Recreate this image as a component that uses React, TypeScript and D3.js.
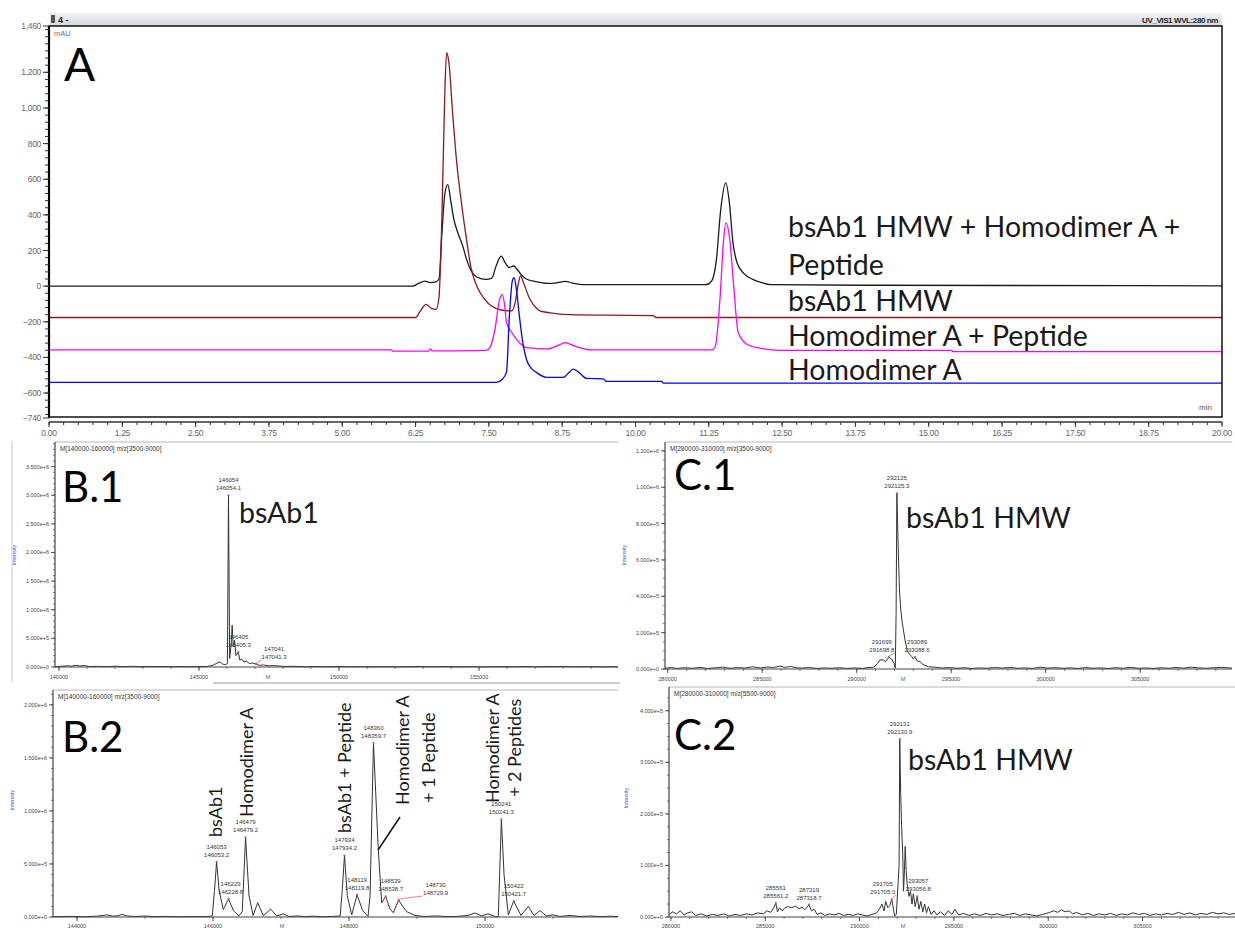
import React from 'react';
import * as d3 from 'd3';

type Pt = [number, number];

// ---------------- Panel A : chromatogram data (time min, mAU as plotted) ----------------
const chromTimeTicks = ["0.00","1.25","2.50","3.75","5.00","6.25","7.50","8.75","10.00","11.25","12.50","13.75","15.00","16.25","17.50","18.75","20.00"];
const chromYTicks = [1460, 1200, 1000, 800, 600, 400, 200, 0, -200, -400, -600, -740];

const traceMix: Pt[] = [
  [0, 0], [6.2, 0], [6.3, 15], [6.41, 28], [6.5, 20], [6.58, 22], [6.65, 40], [6.7, 300], [6.75, 520], [6.8, 570],
  [6.85, 480], [6.9, 380], [6.97, 300], [7.05, 230], [7.12, 150], [7.2, 85], [7.3, 50], [7.45, 38], [7.55, 45],
  [7.62, 110], [7.71, 168], [7.78, 130], [7.85, 105], [7.92, 113], [7.98, 95], [8.05, 65], [8.14, 40], [8.3, 25],
  [8.5, 15], [8.65, 18], [8.8, 27], [8.95, 15], [9.1, 8], [11.2, 8], [11.3, 30], [11.38, 150], [11.45, 420],
  [11.54, 580], [11.6, 470], [11.66, 250], [11.73, 133], [11.85, 70], [12.0, 38], [12.15, 20], [12.3, 8], [14, 5], [20, 2]
];
const traceHMW: Pt[] = [
  [0, -176], [6.25, -176], [6.33, -140], [6.43, -102], [6.52, -125], [6.6, -130], [6.65, -60], [6.7, 400],
  [6.75, 1100], [6.78, 1310], [6.82, 1250], [6.88, 980], [6.95, 700], [7.04, 448], [7.12, 260], [7.19, 113],
  [7.27, 20], [7.35, -36], [7.5, -100], [7.63, -126], [7.8, -138], [7.89, -139], [7.95, -90], [8.0, 10],
  [8.04, 57], [8.1, 10], [8.2, -74], [8.3, -120], [8.37, -139], [8.55, -150], [8.77, -158], [9.5, -163],
  [10.3, -165], [10.35, -176], [20, -176]
];
const traceHomoPep: Pt[] = [
  [0, -358], [5.84, -358], [5.86, -365], [6.47, -365], [6.5, -352], [6.53, -363], [7.45, -360], [7.52, -343],
  [7.6, -250], [7.68, -80], [7.73, -46], [7.77, -110], [7.8, -204], [7.89, -260], [8.0, -310], [8.14, -345],
  [8.5, -352], [8.7, -330], [8.8, -317], [8.95, -335], [9.25, -358], [11.3, -358], [11.36, -340], [11.44, -74],
  [11.5, 250], [11.54, 355], [11.6, 280], [11.67, 20], [11.75, -260], [11.9, -326], [12.12, -348], [12.46, -360],
  [15.39, -360], [15.41, -367], [20, -367]
];
const traceHomo: Pt[] = [
  [0, -540], [7.63, -540], [7.72, -525], [7.8, -484], [7.85, -167], [7.9, 30], [7.93, 48], [7.97, -20],
  [8.02, -167], [8.08, -320], [8.14, -410], [8.22, -460], [8.31, -484], [8.48, -512], [8.77, -512], [8.85, -490],
  [8.94, -466], [9.02, -480], [9.17, -518], [9.45, -520], [9.5, -535], [10.45, -535], [10.47, -544], [20, -544]
];
const chromLabels = ["bsAb1 HMW + Homodimer A +", "Peptide", "bsAb1 HMW", "Homodimer A + Peptide", "Homodimer A"];

// ---------------- MS spectra (mass Da, intensity) ----------------
const specB1: Pt[] = [
  [139860, 4e3], [140100, 1.2e4], [140300, 2.2e4], [140450, 1.5e4], [140600, 3e4], [140750, 1.8e4], [140900, 2.5e4],
  [141100, 8e3], [141400, 1.2e4], [141700, 6e3], [142000, 1.4e4], [142300, 7e3], [142600, 1.2e4], [142900, 5e3],
  [143200, 1e4], [143500, 6e3], [143800, 9e3], [144100, 5e3], [144400, 8e3], [144700, 5e3], [145000, 7e3],
  [145300, 1e4], [145500, 3e4], [145650, 7e4], [145750, 9e4], [145850, 5e4], [145950, 4e4], [146015, 6e4],
  [146054, 3.0e6], [146095, 1.5e5], [146150, 4e5], [146185, 7.3e5], [146225, 3.5e5], [146270, 4.7e5],
  [146320, 2e5], [146405, 2.6e5], [146460, 1.2e5], [146520, 1.4e5], [146600, 9e4], [146700, 1e5], [146800, 6e4],
  [146900, 7e4], [147041, 5e4], [147150, 3e4], [147300, 3.5e4], [147500, 2e4], [147700, 2.5e4], [148000, 1e4],
  [148400, 1.2e4], [148800, 5e3], [149200, 9e3], [149600, 4e3], [150000, 1e4], [150400, 4e3], [150800, 6e3],
  [151200, 3e3], [151600, 6e3], [152000, 3e3], [152500, 5e3], [153000, 1e4], [153300, 4e3], [153700, 8e3],
  [154200, 3e3], [154700, 5e3], [155200, 3e3], [155700, 6e3], [156200, 4e3], [156600, 9e3], [157000, 4e3],
  [157500, 7e3], [158000, 1e4], [158400, 4e3], [158900, 6e3], [159400, 3e3], [159960, 5e3]
];
const specB2: Pt[] = [
  [143650, 3e3], [143900, 6e3], [144100, 2e3], [144300, 8e3], [144440, 2e4], [144520, 8e3], [144600, 1.2e4],
  [144660, 2.5e4], [144740, 1e4], [144850, 5e3], [145000, 9e3], [145150, 3e3], [145300, 6e3], [145500, 2e3],
  [145700, 5e3], [145900, 3e3], [145990, 1e4], [146022, 2.5e5], [146053, 5.2e5], [146090, 2.5e5], [146151, 7e4],
  [146229, 1.7e5], [146300, 6e4], [146380, 1e4], [146430, 5e4], [146479, 7.5e5], [146530, 2e5], [146590, 1.5e4],
  [146657, 1.35e5], [146740, 1.2e4], [146848, 7.5e4], [146937, 1e4], [147034, 3e4], [147120, 5e3], [147250, 1e4],
  [147350, 3e3], [147470, 8e3], [147600, 2e3], [147750, 5e3], [147870, 1e4], [147900, 2.5e5], [147934, 5.8e5],
  [147975, 2e5], [148040, 2e4], [148119, 2.1e5], [148200, 6e4], [148280, 5e3], [148310, 2e5], [148360, 1.64e6],
  [148431, 6.3e5], [148481, 1.35e5], [148539, 1.94e5], [148600, 8e4], [148651, 4e4], [148730, 1.6e5],
  [148790, 1e5], [148848, 5e4], [148971, 1.5e4], [149100, 5e3], [149300, 1e4], [149450, 3e3], [149600, 6e3],
  [149750, 1.5e4], [149853, 3.8e4], [149950, 1e4], [150044, 3e4], [150150, 5e3], [150196, 3e3], [150215, 4e5],
  [150241, 9.2e5], [150280, 4e5], [150343, 2e4], [150422, 1.5e5], [150529, 1.5e4], [150637, 1e5], [150720, 1.5e4],
  [150809, 6e4], [150900, 1e4], [151000, 2e4], [151100, 5e3], [151250, 1.5e4], [151400, 4e3], [151550, 1e4],
  [151700, 3e3], [151850, 8e3], [151956, 3e3]
];
const specC1: Pt[] = [
  [279860, 4e3], [280200, 8e3], [280500, 3e3], [280900, 7e3], [281300, 4e3], [281700, 9e3], [282100, 3e3],
  [282500, 6e3], [282900, 1e4], [283300, 4e3], [283700, 8e3], [284100, 5e3], [284500, 1.2e4], [284900, 6e3],
  [285300, 1.1e4], [285600, 8e3], [285950, 1.6e4], [286200, 9e3], [286500, 1.4e4], [286800, 7e3], [287100, 5e3],
  [287500, 8e3], [287900, 3e3], [288300, 6e3], [288700, 4e3], [289100, 7e3], [289500, 3e3], [289900, 6e3],
  [290300, 3e3], [290600, 8e3], [290900, 1e4], [291100, 3e4], [291233, 5e4], [291407, 5e4], [291534, 4e4],
  [291699, 6.6e4], [291850, 5.5e4], [291980, 3e4], [292042, 5e3], [292085, 3e5], [292125, 9.67e5], [292200, 6.5e5],
  [292265, 4.3e5], [292330, 3.3e5], [292400, 2.6e5], [292466, 2.2e5], [292555, 1.6e5], [292677, 1e5], [292800, 8e4],
  [292910, 7e4], [293000, 5.5e4], [293089, 6.6e4], [293200, 4.5e4], [293349, 4e4], [293500, 2.5e4], [293614, 2e4],
  [293800, 1.2e4], [294143, 1e4], [294500, 5e3], [294900, 8e3], [295300, 4e3], [295700, 7e3], [296100, 3e3],
  [296500, 6e3], [296900, 4e3], [297300, 8e3], [297700, 5e3], [298100, 9e3], [298500, 4e3], [298900, 6e3],
  [299300, 3e3], [299700, 1e4], [300100, 5e3], [300500, 7e3], [300900, 4e3], [301300, 6e3], [301700, 3e3],
  [302100, 8e3], [302500, 4e3], [302900, 6e3], [303300, 3e3], [303700, 7e3], [304100, 4e3], [304500, 9e3],
  [304900, 4e3], [305300, 6e3], [305700, 3e3], [306100, 7e3], [306500, 4e3], [306900, 8e3], [307300, 5e3],
  [307700, 1e4], [308100, 6e3], [308500, 4e3], [308900, 7e3], [309300, 9e3], [309850, 5e3]
];
const specC2: Pt[] = [
  [279900, 5e3], [280100, 1e4], [280300, 6e3], [280500, 1.2e4], [280700, 4e3], [280900, 8e3], [281100, 1e4],
  [281300, 3e3], [281600, 6e3], [281900, 2e3], [282200, 5e3], [282500, 3e3], [282800, 6e3], [283100, 2e3],
  [283400, 5e3], [283700, 3e3], [284000, 6e3], [284300, 4e3], [284600, 8e3], [284900, 6e3], [285100, 1.2e4],
  [285300, 9e3], [285450, 1.8e4], [285561, 2.7e4], [285650, 1e4], [285750, 1.8e4], [285900, 1.2e4], [286050, 1.8e4],
  [286200, 2e4], [286400, 1.8e4], [286600, 2.1e4], [286800, 1.6e4], [286950, 1.9e4], [287100, 1.4e4], [287200, 1.8e4],
  [287319, 2.4e4], [287450, 1.2e4], [287600, 1.5e4], [287750, 5e3], [287950, 8e3], [288150, 3e3], [288400, 6e3],
  [288650, 4e3], [288900, 7e3], [289150, 3e3], [289400, 5e3], [289650, 3e3], [289900, 6e3], [290150, 4e3],
  [290400, 2e3], [290650, 5e3], [290900, 8e3], [291050, 1.5e4], [291189, 2.5e4], [291300, 1.2e4], [291384, 3e4],
  [291500, 1.8e4], [291600, 2.2e4], [291705, 3.4e4], [291800, 1.5e4], [291860, 2e3], [291950, 5e3], [292095, 1e5],
  [292131, 3.45e5], [292180, 2.4e5], [292230, 1.75e5], [292290, 1.2e5], [292330, 5e4], [292380, 9e4],
  [292420, 1.37e5], [292470, 9e4], [292520, 6.5e4], [292580, 5e4], [292620, 4e4], [292700, 5e4], [292780, 2.5e4],
  [292850, 4.5e4], [292950, 2e4], [293057, 4e4], [293150, 1.5e4], [293250, 3e4], [293350, 1e4], [293450, 2.5e4],
  [293550, 8e3], [293650, 2e4], [293800, 5e3], [293950, 1.2e4], [294100, 4e3], [294300, 1e4], [294500, 3e3],
  [294700, 1.2e4], [294900, 5e3], [295050, 1.5e4], [295250, 4e3], [295500, 7e3], [295800, 3e3], [296100, 6e3],
  [296400, 3e3], [296700, 7e3], [297000, 4e3], [297300, 6e3], [297600, 3e3], [297900, 5e3], [298200, 7e3],
  [298500, 3e3], [298800, 6e3], [299100, 4e3], [299400, 2e3], [299700, 5e3], [300000, 8e3], [300300, 1.2e4],
  [300500, 9e3], [300700, 1.4e4], [300900, 1e4], [301100, 1.2e4], [301300, 6e3], [301500, 9e3], [301800, 4e3],
  [302100, 7e3], [302400, 3e3], [302700, 6e3], [303000, 4e3], [303300, 7e3], [303600, 3e3], [303900, 6e3],
  [304200, 4e3], [304500, 8e3], [304800, 5e3], [305100, 7e3], [305400, 3e3], [305700, 6e3], [306000, 4e3],
  [306300, 7e3], [306600, 5e3], [306900, 9e3], [307200, 5e3], [307500, 8e3], [307800, 4e3], [308100, 7e3],
  [308400, 5e3], [308700, 9e3], [309000, 6e3], [309300, 8e3], [309600, 5e3], [309900, 7e3]
];

// peak annotations: [mass, line1, line2]
const peaksB1: [number, string, string][] = [[146054, "146054", "146054.1"], [146405, "146405", "146405.3"], [147041, "147041", "147041.3"]];
const peaksB2: [number, string, string][] = [
  [146053, "146053", "146053.2"], [146229, "146229", "146228.8"], [146479, "146479", "146479.2"],
  [147934, "147934", "147934.2"], [148119, "148119", "148119.8"], [148360, "148360", "148359.7"],
  [148539, "148539", "148538.7"], [148730, "148730", "148729.9"], [150241, "150241", "150241.3"], [150422, "150422", "150421.7"]
];
const peaksC1: [number, string, string][] = [[292125, "292125", "292125.3"], [291699, "291699", "291698.8"], [293089, "293089", "293088.6"]];
const peaksC2: [number, string, string][] = [
  [292131, "292131", "292130.9"], [285561, "285561", "285561.2"], [287319, "287319", "287318.7"],
  [291705, "291705", "291705.0"], [293057, "293057", "293056.8"]
];

const yTicksB1 = [0, 5e5, 1e6, 1.5e6, 2e6, 2.5e6, 3e6, 3.5e6];
const yTicksB2 = [0, 5e5, 1e6, 1.5e6, 2e6];
const yTicksC1 = [0, 2e5, 4e5, 6e5, 8e5, 1e6, 1.2e6];
const yTicksC2 = [0, 1e5, 2e5, 3e5, 4e5];
const xTicksB1 = [140000, 145000, 150000, 155000];
const xTicksB2 = [144000, 146000, 148000, 150000];
const xTicksC = [280000, 285000, 290000, 295000, 300000, 305000];

const B2Species = ["bsAb1", "Homodimer A", "bsAb1 + Peptide", "Homodimer A", "+ 1 Peptide", "Homodimer A", "+ 2 Peptides"];

const SANS = "Liberation Sans, Arial, sans-serif";
const BIG = "Lato, 'Open Sans', sans-serif";

function ChromPanel() {
  const x = d3.scaleLinear().domain([0, 20]).range([49, 1222]);
  const y = d3.scaleLinear().domain([-740, 1460]).range([418, 26]);
  const line = d3.line<Pt>().x(d => x(d[0])).y(d => y(d[1])).curve(d3.curveMonotoneX);
  const minorX = d3.range(0, 20.001, 0.25);
  const minorY = d3.range(-720, 1460, 40);
  const fmt = d3.format(",");
  const series = [
    { d: traceMix, c: "#1a1a1a" },
    { d: traceHMW, c: "#8b1a1a" },
    { d: traceHomoPep, c: "#ff00ff" },
    { d: traceHomo, c: "#0000ff" },
  ];
  const labelY = [237, 275, 311, 346, 380];
  return (
    <g>
      <defs>
        <linearGradient id="tb" x1="0" y1="0" x2="0" y2="1">
          <stop offset="0" stopColor="#f0f0f6" />
          <stop offset="1" stopColor="#d6d6de" />
        </linearGradient>
        <clipPath id="clipA"><rect x={49} y={26} width={1173} height={391} /></clipPath>
      </defs>
      <rect x={50} y={13} width={1172} height={13} fill="url(#tb)" />
      <rect x={51} y={15} width={4} height={8} fill="#555" />
      <text x={58} y={23} fontSize={9} fontWeight="bold" fontFamily={SANS} fill="#222">4 -</text>
      <text x={1218} y={22.5} fontSize={8} fontWeight="bold" fontFamily={SANS} fill="#222" textAnchor="end" letterSpacing={-0.4}>UV_VIS1 WVL:280 nm</text>
      <text x={54} y={35.5} fontSize={7.5} fontFamily={SANS}><tspan fill="#c0504d">m</tspan><tspan fill="#4f6bd0">AU</tspan></text>
      <text x={1199} y={410} fontSize={8} fontFamily={SANS} fill="#555">min</text>
      <g clipPath="url(#clipA)">
        {series.map((s, i) => (
          <path key={i} d={line(s.d) || ""} fill="none" stroke={s.c} strokeWidth={1.3} />
        ))}
      </g>
      <rect x={49} y={26} width={1173} height={391} fill="none" stroke="#000" strokeWidth={1.4} />
      <line x1={49} y1={26} x2={49} y2={418} stroke="#000" strokeWidth={2.2} />
      {minorY.map(v => (
        <line key={"my" + v} x1={45} x2={49} y1={y(v)} y2={y(v)} stroke="#333" strokeWidth={1} />
      ))}
      {chromYTicks.map(v => (
        <g key={"y" + v}>
          <line x1={43} x2={49} y1={y(v)} y2={y(v)} stroke="#333" strokeWidth={1} />
          <text x={41} y={y(v) + 3} fontSize={8.5} fontFamily={SANS} fill="#666" textAnchor="end" letterSpacing={-0.3}>{fmt(v)}</text>
        </g>
      ))}
      <line x1={49} x2={1222} y1={422} y2={422} stroke="#333" strokeWidth={1.5} />
      {minorX.map(v => (
        <line key={"mx" + v} x1={x(v)} x2={x(v)} y1={422} y2={425} stroke="#333" strokeWidth={1} />
      ))}
      {chromTimeTicks.map(t => (
        <g key={"x" + t}>
          <line x1={x(+t)} x2={x(+t)} y1={422} y2={427} stroke="#333" strokeWidth={1} />
          <text x={x(+t)} y={436} fontSize={8.5} fontFamily={SANS} fill="#666" textAnchor="middle" letterSpacing={-0.3}>{t}</text>
        </g>
      ))}
      <text x={64} y={81} fontSize={46} fontFamily={BIG} fill="#000">A</text>
      {chromLabels.map((t, i) => (
        <text key={t + i} x={788} y={labelY[i]} fontSize={28.5} fontFamily={BIG} fill="#1a1a1a">{t}</text>
      ))}
    </g>
  );
}

interface MSCfg {
  id: string; left: number; top: number; right: number; bottom: number;
  xDomain: [number, number]; yMax: number; yTicks: number[]; yMinor: number;
  xTicks: number[]; xMinor: number; spec: Pt[]; peaks: [number, string, string][];
  header: string; name: string; nameX: number; nameY: number;
  peakDx: Record<number, number>; intY: number; intX: number; mX: number; mY: number; xLabelY: number;
}

function MSPanel({ c }: { c: MSCfg }) {
  const x = d3.scaleLinear().domain(c.xDomain).range([c.left, c.right]);
  const y = d3.scaleLinear().domain([0, c.yMax]).range([c.bottom, c.top]);
  const line = d3.line<Pt>().x(d => x(d[0])).y(d => y(d[1]));
  const fmt = d3.format(".3e");
  const minorY = d3.range(0, c.yMax, c.yMinor);
  const minorX = d3.range(Math.ceil(c.xDomain[0] / c.xMinor) * c.xMinor, c.xDomain[1], c.xMinor);
  const xfmt = d3.format("d");
  return (
    <g>
      <defs>
        <clipPath id={"clip" + c.id}><rect x={c.left} y={c.top} width={c.right - c.left} height={c.bottom - c.top + 1} /></clipPath>
      </defs>
      <line x1={c.left} x2={c.right} y1={c.top} y2={c.top} stroke="#b8b8b8" strokeWidth={1.2} />
      <text x={c.left + 5} y={c.top + 8.5} fontSize={6.5} fontFamily={SANS} fill="#333">{c.header}</text>
      <g clipPath={"url(#clip" + c.id + ")"}>
        <path d={line(c.spec) || ""} fill="none" stroke="#333" strokeWidth={1} />
      </g>
      <line x1={c.left} x2={c.left} y1={c.top} y2={c.bottom} stroke="#444" strokeWidth={1.2} />
      <line x1={c.left} x2={c.right} y1={c.bottom} y2={c.bottom} stroke="#444" strokeWidth={1.2} />
      {minorY.map(v => <line key={"my" + v} x1={c.left - 2} x2={c.left} y1={y(v)} y2={y(v)} stroke="#555" strokeWidth={0.8} />)}
      {c.yTicks.map(v => (
        <g key={"y" + v}>
          <line x1={c.left - 4} x2={c.left} y1={y(v)} y2={y(v)} stroke="#444" strokeWidth={0.9} />
          <text x={c.left - 6} y={y(v) + 2} fontSize={5.5} fontFamily={SANS} fill="#444" textAnchor="end">{fmt(v)}</text>
        </g>
      ))}
      {minorX.map(v => <line key={"mx" + v} x1={x(v)} x2={x(v)} y1={c.bottom} y2={c.bottom + 2} stroke="#555" strokeWidth={0.8} />)}
      {c.xTicks.map(v => (
        <g key={"x" + v}>
          <line x1={x(v)} x2={x(v)} y1={c.bottom} y2={c.bottom + 4} stroke="#444" strokeWidth={0.9} />
          <text x={x(v)} y={c.xLabelY} fontSize={5.5} fontFamily={SANS} fill="#444" textAnchor="middle">{xfmt(v)}</text>
        </g>
      ))}
      <text transform={`translate(${c.intX},${c.intY}) rotate(-90)`} fontSize={5.5} fontFamily={SANS} fill="#3a55c8" textAnchor="middle">Intensity</text>
      <text x={c.mX} y={c.mY} fontSize={5.5} fontFamily={SANS} fill="#3a55c8" textAnchor="middle">M</text>
      {c.peaks.map(([m, a, b]) => {
        const pt = c.spec.reduce((best, p) => (Math.abs(p[0] - m) < Math.abs(best[0] - m) ? p : best), c.spec[0]);
        const px = x(pt[0]);
        const py = y(pt[1]);
        const dx = c.peakDx[m] || 0;
        const lx = px + dx;
        return (
          <g key={"pk" + m}>
            {Math.abs(dx) > 6 && (
              <line x1={px} y1={py - 1} x2={lx - Math.sign(dx) * 13} y2={py - 4} stroke="#e05050" strokeWidth={0.7} />
            )}
            <circle cx={px} cy={py} r={1.1} fill="#e05050" />
            <text x={lx} y={py - 13} fontSize={6} fontFamily={SANS} fill="#333" textAnchor="middle">{a}</text>
            <text x={lx} y={py - 5} fontSize={6} fontFamily={SANS} fill="#333" textAnchor="middle">{b}</text>
          </g>
        );
      })}
      <text x={c.nameX} y={c.nameY} fontSize={42} fontFamily={BIG} fill="#000">{c.name}</text>
    </g>
  );
}

const cfgB1: MSCfg = {
  id: "b1", left: 55, top: 442, right: 618, bottom: 667, xDomain: [139860, 159960], yMax: 3.93e6,
  yTicks: yTicksB1, yMinor: 1e5, xTicks: xTicksB1, xMinor: 1000, spec: specB1, peaks: peaksB1,
  header: "M[140000-160000] m/z[3500-9000]", name: "B.1", nameX: 62, nameY: 502,
  peakDx: { 147041: 18 }, intX: 16, intY: 555, mX: 268, mY: 679, xLabelY: 679,
};
const cfgB2: MSCfg = {
  id: "b2", left: 53, top: 690, right: 618, bottom: 917, xDomain: [143647, 151956], yMax: 2.14e6,
  yTicks: yTicksB2, yMinor: 1e5, xTicks: xTicksB2, xMinor: 1000, spec: specB2, peaks: peaksB2,
  header: "M[140000-160000] m/z[3500-9000]", name: "B.2", nameX: 62, nameY: 752,
  peakDx: { 146229: 2, 148539: 5, 148730: 37 }, intX: 14, intY: 800, mX: 282, mY: 928, xLabelY: 928,
};
const cfgC1: MSCfg = {
  id: "c1", left: 665, top: 442, right: 1232, bottom: 669, xDomain: [279857, 309857], yMax: 1.249e6,
  yTicks: yTicksC1, yMinor: 5e4, xTicks: xTicksC, xMinor: 1000, spec: specC1, peaks: peaksC1,
  header: "M[280000-310000] m/z[3500-9000]", name: "C.1", nameX: 674, nameY: 490,
  peakDx: { 291699: -7, 293089: 2 }, intX: 626, intY: 555, mX: 903, mY: 681, xLabelY: 681,
};
const cfgC2: MSCfg = {
  id: "c2", left: 669, top: 687, right: 1235, bottom: 917, xDomain: [279900, 309900], yMax: 4.46e5,
  yTicks: yTicksC2, yMinor: 2.5e4, xTicks: xTicksC, xMinor: 1000, spec: specC2, peaks: peaksC2,
  header: "M[280000-310000] m/z[5500-9000]", name: "C.2", nameX: 674, nameY: 750,
  peakDx: { 291705: -9, 293057: 1 }, intX: 628, intY: 798, mX: 903, mY: 928, xLabelY: 928,
};

function Annotations() {
  // rotated species labels in B.2: [x baseline, y start]
  const rot: [number, number][] = [[222, 837], [253, 817], [351, 833], [409, 805], [435, 803], [499, 803], [521, 797]];
  return (
    <g>
      <text x={239} y={523} fontSize={28.5} fontFamily={BIG} fill="#1a1a1a">bsAb1</text>
      <text x={906} y={528} fontSize={28.5} fontFamily={BIG} fill="#1a1a1a">bsAb1 HMW</text>
      <text x={908} y={770} fontSize={28.5} fontFamily={BIG} fill="#1a1a1a">bsAb1 HMW</text>
      {B2Species.map((t, i) => (
        <text key={i} transform={`translate(${rot[i][0]},${rot[i][1]}) rotate(-90)`} fontSize={18} fontFamily={BIG} fill="#1a1a1a">{t}</text>
      ))}
      <line x1={400} y1={817} x2={378} y2={850} stroke="#111" strokeWidth={1.5} />
      <line x1={12} x2={12} y1={441} y2={683} stroke="#c8c8c8" strokeWidth={1} />
      <line x1={213} x2={620} y1={683} y2={683} stroke="#9a9a9a" strokeWidth={1} />
    </g>
  );
}

export default function App() {
  return (
    <svg width={1235} height={928} viewBox="0 0 1235 928" style={{ position: 'absolute', left: 0, top: 0, background: '#fff' }}>
      <rect width={1235} height={928} fill="#fff" />
      <ChromPanel />
      <MSPanel c={cfgB1} />
      <MSPanel c={cfgB2} />
      <MSPanel c={cfgC1} />
      <MSPanel c={cfgC2} />
      <Annotations />
    </svg>
  );
}
